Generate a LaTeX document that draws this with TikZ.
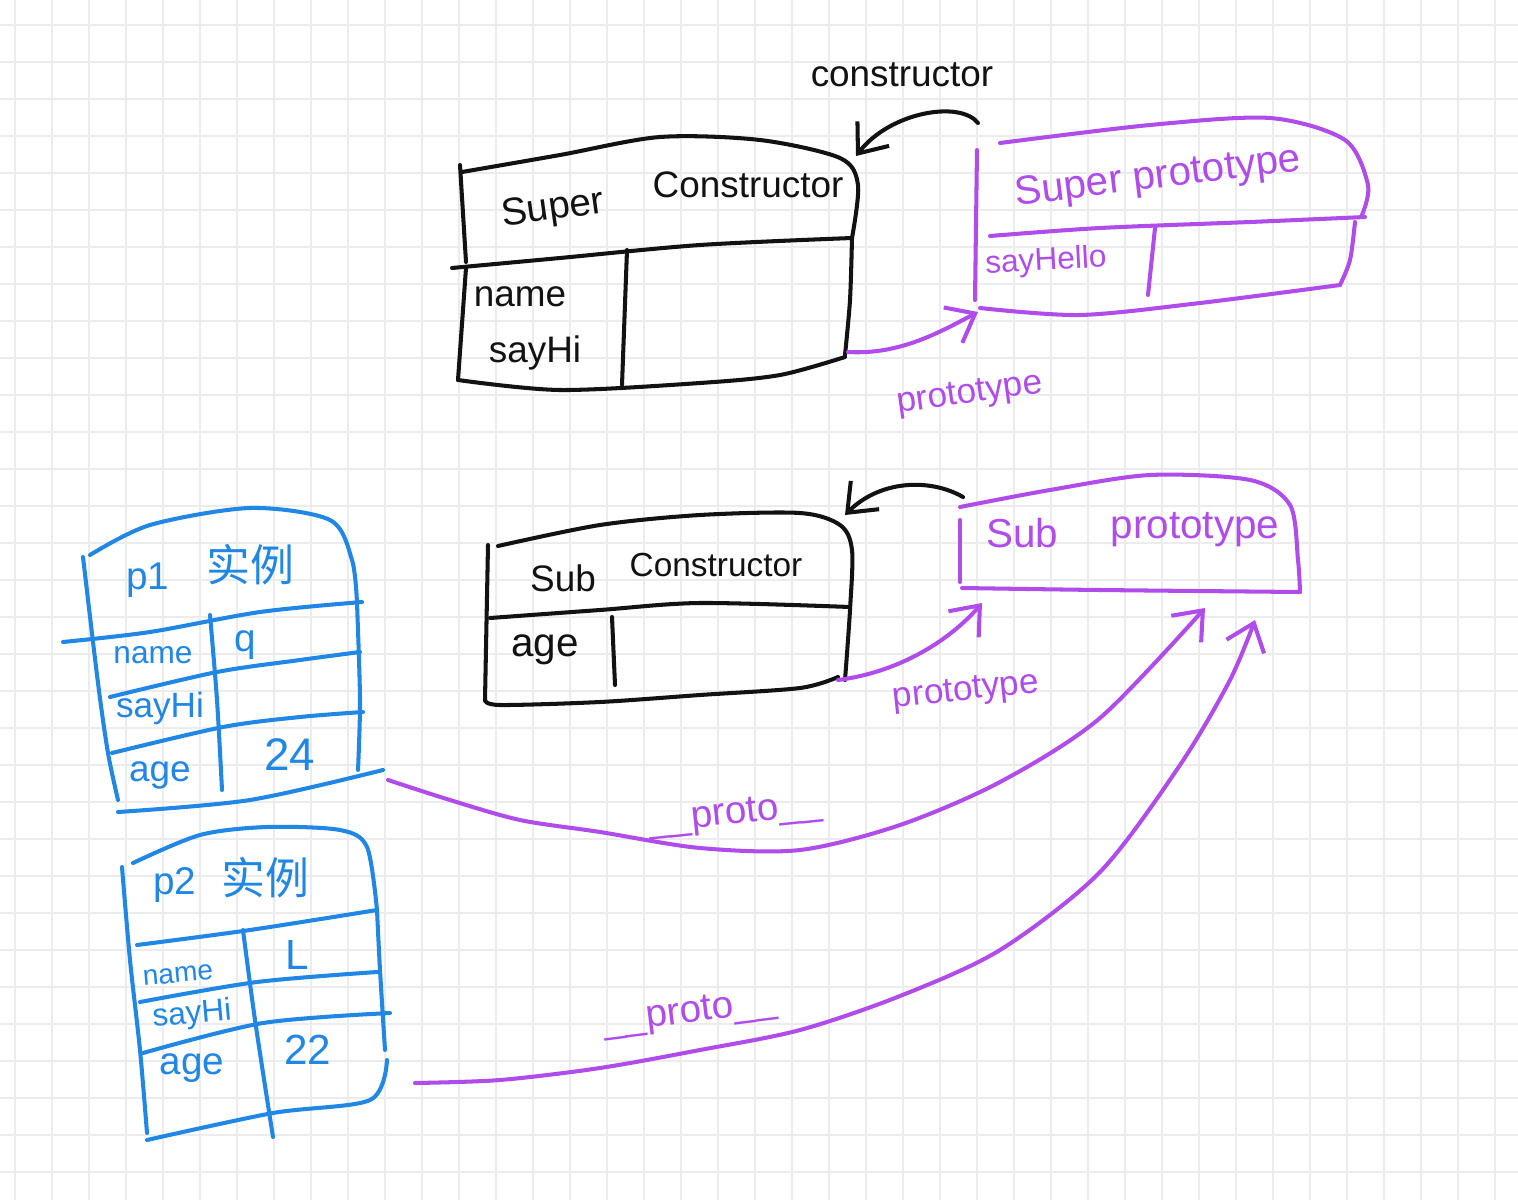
\documentclass[tikz,border=0pt]{standalone}
\usepackage{fontspec}
\setmainfont{Liberation Sans}
\newfontfamily\cjk{Noto Sans CJK SC}
\usetikzlibrary{arrows.meta}
\definecolor{pen}{RGB}{18,18,18}
\definecolor{violetpen}{RGB}{176,76,234}
\definecolor{bluepen}{RGB}{32,135,228}
\definecolor{gridc}{RGB}{236,236,236}
\begin{document}
\begin{tikzpicture}[x=0.02cm,y=-0.02cm,
  ink/.style={line width=2.3pt, line cap=round, line join=round},
  blk/.style={ink, draw=pen},
  vio/.style={ink, draw=violetpen},
  blu/.style={ink, draw=bluepen},
  barb/.style={-{Straight Barb[length=5mm,width=8mm]}},
  txt/.style={inner sep=0pt, font=\fontsize{#1}{#1}\selectfont},
  txt/.default=21,
  btxt/.style={txt=#1, text=pen},
  vtxt/.style={txt=#1, text=violetpen},
  ctxt/.style={txt=#1, text=bluepen}]
\useasboundingbox (0,0) rectangle (1518,1200);
\fill[white] (0,0) rectangle (1518,1200);
\foreach \i in {0,...,40} \draw[gridc, line width=1pt] ({15+37*\i},0) -- ({15+37*\i},1200);
\foreach \j in {0,...,31} \draw[gridc, line width=1pt] (0,{25+37*\j}) -- (1518,{25+37*\j});

% ---------- Super Constructor (black) ----------
\draw[blk] plot[smooth] coordinates {(462,172) (560,155) (660,137) (760,140) (840,158) (858,185) (852,238)};
\draw[blk] (460,165) -- (466,262);
\draw[blk] plot[smooth] coordinates {(452,268) (560,258) (700,245) (852,238)};
\draw[blk] plot[smooth] coordinates {(852,238) (850,300) (845,355)};
\draw[blk] plot[smooth] coordinates {(458,380) (560,390) (700,383) (780,375) (845,357)};
\draw[blk] (466,268) -- (458,380);
\draw[blk] (627,250) -- (622,385);
\node[btxt=22, rotate=8] (scSuper) at (553,210) {Super};
\node[btxt=21] (scCons) at (748,185) {Constructor};
\node[btxt=21] (scName) at (520,297) {name};
\node[btxt=21] (scSay) at (535,353) {sayHi};

% ---------- Super prototype (violet) ----------
\draw[vio] (977,150) -- (975,300);
\draw[vio] plot[smooth] coordinates {(1000,143) (1150,125) (1270,118) (1345,140) (1368,185) (1362,215)};
\draw[vio] plot[smooth] coordinates {(990,236) (1100,228) (1250,222) (1365,217)};
\draw[vio] plot[smooth] coordinates {(1355,222) (1350,260) (1340,285)};
\draw[vio] plot[smooth] coordinates {(980,308) (1080,315) (1200,303) (1340,285)};
\draw[vio] (1155,228) -- (1148,295);
\node[vtxt=23, rotate=7] (spTitle) at (1158,178) {Super prototype};
\node[vtxt=18, rotate=3] (spSay) at (1046,262) {sayHello};

% ---------- constructor / prototype (super) ----------
\node[btxt=21] (consLbl) at (902,75) {constructor};
\coordinate (cA) at (978,123);
\coordinate (cB) at (856,156);
\draw[blk, barb] (cA) .. controls (960,100) and (890,112) .. (cB);
\coordinate (pA) at (848,352);
\coordinate (pB) at (978,312);
\draw[vio, barb] (pA) .. controls (900,355) and (940,332) .. (pB);
\node[vtxt=20, rotate=8] (protoLbl1) at (970,395) {prototype};

% ---------- Sub Constructor (black) ----------
\draw[blk] plot[smooth] coordinates {(498,546) (600,525) (700,515) (800,513) (840,525) (852,550) (850,610) (845,680)};
\draw[blk] (488,545) -- (485,700);
\draw[blk] plot[smooth] coordinates {(490,618) (600,610) (700,603) (850,607)};
\draw[blk] (612,617) -- (615,685);
\draw[blk] plot[smooth] coordinates {(485,700) (500,705) (600,702) (700,695) (800,688) (838,677)};
\node[btxt=21] (subSub) at (563,578) {Sub};
\node[btxt=19] (subCons) at (716,565) {Constructor};
\node[btxt=23] (subAge) at (545,650) {age};

% ---------- Sub prototype (violet) ----------
\draw[vio] plot[smooth] coordinates {(960,507) (1050,490) (1150,475) (1250,480) (1290,505) (1298,560) (1300,592)};
\draw[vio] (960,520) -- (960,582);
\draw[vio] plot[smooth] coordinates {(962,588) (1100,590) (1300,592)};
\node[vtxt=23] (sbSub) at (1022,533) {Sub};
\node[vtxt=23] (sbProto) at (1195,530) {prototype};

\coordinate (c2A) at (963,497);
\coordinate (c2B) at (845,515);
\draw[blk, barb] (c2A) .. controls (930,478) and (880,480) .. (c2B);
\coordinate (p2A) at (838,680);
\coordinate (p2B) at (982,603);
\draw[vio, barb] (p2A) .. controls (900,672) and (950,640) .. (p2B);
\node[vtxt=20, rotate=6] (protoLbl2) at (966,692) {prototype};

% ---------- p1 instance (blue) ----------
\draw[blu] plot[smooth] coordinates {(90,555) (150,525) (250,508) (330,520) (352,560) (357,603)};
\draw[blu] plot[smooth] coordinates {(83,557) (98,683) (108,753) (118,800)};
\draw[blu] plot[smooth] coordinates {(63,642) (150,632) (260,612) (362,602)};
\draw[blu] plot[smooth] coordinates {(357,603) (360,700) (358,770)};
\draw[blu] plot[smooth] coordinates {(110,697) (217,672) (300,660) (360,652)};
\draw[blu] plot[smooth] coordinates {(112,753) (223,727) (300,717) (363,712)};
\draw[blu] plot[smooth] coordinates {(210,615) (217,700) (222,790)};
\draw[blu] plot[smooth] coordinates {(118,812) (250,800) (383,770)};
\node[ctxt=22] (p1Name) at (148,580) {p1};
\node[ctxt=25] (p1Cn) at (250,565) {\cjk 实例};
\node[ctxt=18] (p1n) at (153,655) {name};
\node[ctxt=22] (p1q) at (245,645) {q};
\node[ctxt=20] (p1s) at (160,708) {sayHi};
\node[ctxt=21] (p1a) at (160,775) {age};
\node[ctxt=26] (p1v) at (290,755) {24};

% ---------- p2 instance (blue) ----------
\draw[blu] plot[smooth] coordinates {(133,863) (200,835) (267,827) (340,830) (367,847) (377,910)};
\draw[blu] plot[smooth] coordinates {(122,867) (130,960) (140,1050) (147,1133)};
\draw[blu] plot[smooth] coordinates {(137,945) (250,930) (377,910)};
\draw[blu] plot[smooth] coordinates {(243,930) (255,1020) (273,1137)};
\draw[blu] plot[smooth] coordinates {(140,1002) (257,982) (377,972)};
\draw[blu] plot[smooth] coordinates {(143,1053) (263,1023) (390,1013)};
\draw[blu] plot[smooth] coordinates {(377,910) (380,970) (385,1050)};
\draw[blu] plot[smooth] coordinates {(147,1140) (273,1113) (370,1100) (387,1060)};
\node[ctxt=22] (p2Name) at (175,885) {p2};
\node[ctxt=25] (p2Cn) at (265,878) {\cjk 实例};
\node[ctxt=16, rotate=5] (p2n) at (178,975) {name};
\node[ctxt=24] (p2L) at (297,955) {L};
\node[ctxt=18, rotate=5] (p2s) at (192,1015) {sayHi};
\node[ctxt=22] (p2a) at (192,1068) {age};
\node[ctxt=24] (p2v) at (308,1050) {22};

% ---------- __proto__ links ----------
\coordinate (i1A) at (388,780);
\coordinate (i1B) at (1205,608);
\draw[vio, barb] plot[smooth] coordinates {(i1A) (450,800) (520,820) (600,832) (700,848) (800,850) (900,825) (1000,782) (1100,718) (i1B)};
\node[vtxt=22, rotate=6] (proto1) at (735,815) {\_\_proto\_\_};
\coordinate (i2A) at (415,1083);
\coordinate (i2B) at (1255,620);
\draw[vio, barb] plot[smooth] coordinates {(i2A) (500,1080) (600,1068) (700,1050) (800,1030) (900,996) (1000,950) (1100,872) (1180,765) (1230,680) (i2B)};
\node[vtxt=22, rotate=7] (proto2) at (690,1014) {\_\_proto\_\_};
\end{tikzpicture}
\end{document}
